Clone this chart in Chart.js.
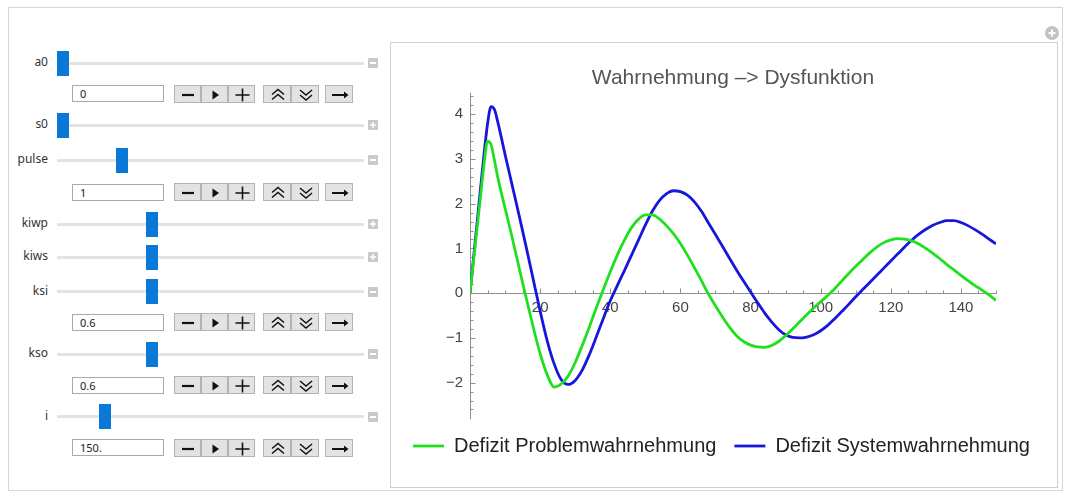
<!DOCTYPE html>
<html><head><meta charset="utf-8">
<script src="https://cdn.jsdelivr.net/npm/chart.js@4.4.1/dist/chart.umd.min.js"></script>
<style>
html,body{margin:0;padding:0;background:#fff;}
body{width:1067px;height:495px;overflow:hidden;position:relative;font-family:"Noto Sans","Open Sans",sans-serif;}
.frame{position:absolute;left:8px;top:7px;width:1055px;height:484px;border:1px solid #d6d6d6;box-sizing:border-box;}
.plotbox{position:absolute;left:390px;top:42px;width:668px;height:446px;border:1px solid #cfcfcf;box-sizing:border-box;background:#fff;}
.lbl{position:absolute;width:44px;text-align:right;font-size:12px;color:#333;line-height:14px;}
.track{position:absolute;left:57px;width:307px;height:3px;background:#e3e3e3;}
.thumb{position:absolute;width:12px;height:25px;background:#0a78d7;}
.ico{position:absolute;left:368px;width:10px;height:10px;background:#c9c9c9;border-radius:1px;}
.ico svg{position:absolute;left:0;top:0;}
.inp{position:absolute;left:72px;width:92px;height:17px;border:1px solid #a9a9a9;box-sizing:border-box;font-size:11px;line-height:15px;padding-left:7px;color:#222;background:#fff;}
.btn{position:absolute;height:18px;background:#e3e3e3;border:1px solid #b3b3b3;box-sizing:border-box;}
.btn svg{position:absolute;left:0;top:0;}
.plus{position:absolute;left:1045px;top:26px;width:14px;height:14px;border-radius:50%;background:#c4c4c4;}
.plus svg{position:absolute;left:0;top:0;}
</style></head>
<body>
<div class="frame"></div>
<div class="plotbox"></div>
<div class="plus"><svg width="14" height="14"><path d="M7 3.5V10.5M3.5 7H10.5" stroke="#fff" stroke-width="2"/></svg></div>
<div id="controls"></div>
<canvas id="c" width="707" height="444" style="position:absolute;left:360px;top:43px;"></canvas>
<script>
// ---- data ----
const timePoints = [0,1,2,3,4,5,6,7,8,10,12,14,16,18,20,22,24,26,28,30,32,34,36,38,40,42,44,46,48,50,52,54,56,58,60,62,64,66,68,70,72,74,76,78,80,82,84,86,88,90,92,94,96,98,100,102,104,106,108,110,112,114,116,118,120,122,124,126,128,130,132,134,136,138,140,142,144,146,148,150];
const problemDeficit = [0,0.72,1.44,2.16,2.88,3.4,3.32,2.96,2.56,1.9,1.25,0.57,-0.1,-0.75,-1.35,-1.82,-2.1,-2.03,-1.85,-1.55,-1.17,-0.76,-0.33,0.08,0.48,0.85,1.18,1.46,1.65,1.75,1.75,1.66,1.51,1.33,1.11,0.85,0.57,0.28,-0.02,-0.28,-0.53,-0.76,-0.95,-1.08,-1.16,-1.2,-1.21,-1.17,-1.08,-0.95,-0.8,-0.64,-0.48,-0.33,-0.19,-0.05,0.1,0.27,0.44,0.6,0.75,0.9,1.03,1.13,1.19,1.22,1.21,1.17,1.1,1.0,0.89,0.77,0.64,0.52,0.4,0.28,0.17,0.07,-0.04,-0.16];
const systemDeficit = [0,0.78,1.56,2.34,3.1,3.78,4.17,4.1,3.8,3.1,2.42,1.74,1.04,0.32,-0.4,-1.06,-1.58,-1.93,-2.04,-1.95,-1.72,-1.38,-0.98,-0.57,-0.17,0.17,0.5,0.84,1.18,1.52,1.83,2.07,2.22,2.29,2.27,2.19,2.04,1.83,1.57,1.31,1.05,0.78,0.52,0.27,0.03,-0.21,-0.44,-0.64,-0.81,-0.93,-0.99,-1.0,-0.98,-0.93,-0.84,-0.72,-0.57,-0.41,-0.25,-0.08,0.08,0.24,0.4,0.56,0.72,0.88,1.04,1.19,1.32,1.43,1.52,1.58,1.62,1.62,1.58,1.51,1.42,1.32,1.21,1.1];
const seriesNames = ['Defizit Problemwahrnehmung','Defizit Systemwahrnehmung'];
const chartTitle = 'Wahrnehmung –> Dysfunktion';
const xTickLabels = [20,40,60,80,100,120,140];
const yTickLabels = [-2,-1,0,1,2,3,4];
const xRange = [0,150];
const yRange = [-2.79,4.47];

// ---- control panel (Manipulate widgets) ----
const controlNames = ['a0','s0','pulse','kiwp','kiws','ksi','kso','i'];
const controlValues = ['0',null,'1',null,null,'0.6','0.6','150.'];
const controlOpen = [true,false,true,false,false,true,true,true];
const rowY = [63,125,160,224,257,291.5,354,416.5];
const inputY = [93.5,null,192,null,null,322,385,447.5];
const thumbX = [57,57,116,146,146,146,146,99];
const wrap = document.getElementById('controls');
function el(cls, css, html){const d=document.createElement('div');d.className=cls;Object.assign(d.style,css);if(html)d.innerHTML=html;wrap.appendChild(d);return d;}
const glyphs = {
  minus:'<svg width="27" height="18"><path d="M7 9H19" stroke="#111" stroke-width="2.2"/></svg>',
  play:'<svg width="27" height="18"><path d="M10.5 4.5L17 9L10.5 13.5Z" fill="#111"/></svg>',
  plus:'<svg width="27" height="18"><path d="M6.5 9H20.5M13.5 2.5V15.5" stroke="#111" stroke-width="1.6"/></svg>',
  up:'<svg width="28" height="18"><path d="M8 8.5L14 3.5L20 8.5M8 13.5L14 8.5L20 13.5" stroke="#111" stroke-width="1.5" fill="none"/></svg>',
  down:'<svg width="28" height="18"><path d="M8 4L14 9L20 4M8 9L14 14L20 9" stroke="#111" stroke-width="1.5" fill="none"/></svg>',
  arrow:'<svg width="28" height="18"><path d="M6 9H21" stroke="#111" stroke-width="2"/><path d="M18 5.5L22.5 9L18 12.5Z" fill="#111"/></svg>'
};
const buttons = [[174,27,'minus'],[201,27,'play'],[228,27,'plus'],[263,28,'up'],[291,28,'down'],[325,28,'arrow']];
controlNames.forEach((n,k)=>{
  const y=rowY[k];
  el('lbl',{left:'4px',top:(y-8)+'px'}).textContent=n;
  el('track',{top:(y-1.5)+'px'});
  el('thumb',{left:thumbX[k]+'px',top:(y-12.5)+'px'});
  el('ico',{top:(y-5)+'px'}, controlOpen[k]
    ? '<svg width="10" height="10"><path d="M2 5H8" stroke="#fff" stroke-width="2"/></svg>'
    : '<svg width="10" height="10"><path d="M2 5H8M5 2V8" stroke="#fff" stroke-width="1.6"/></svg>');
  if(controlValues[k]!==null){
    const iy=inputY[k];
    el('inp',{top:(iy-8.5)+'px'}).textContent=controlValues[k];
    buttons.forEach(b=>el('btn',{left:b[0]+'px',top:(iy-9)+'px',width:b[1]+'px'},glyphs[b[2]]));
  }
});

// ---- chart ----
const tickMarks = {
  id:'tickMarks',
  beforeDatasetsDraw(chart){
    const {ctx, scales:{x,y}} = chart;
    const x0 = Math.round(x.getPixelForValue(0))+0.5, y0 = Math.round(y.getPixelForValue(0))+0.5;
    ctx.save(); ctx.strokeStyle='#8f8f8f'; ctx.lineWidth=1; ctx.beginPath();
    for(let k=-15;k<=25;k++){const v=k/5; if(v<y.min||v>y.max) continue;
      const py=Math.round(y.getPixelForValue(v))+0.5; const len=(k%5===0)?5:3;
      ctx.moveTo(x0,py); ctx.lineTo(x0+len,py);}
    for(let v=5;v<=xRange[1];v+=5){const px=Math.round(x.getPixelForValue(v))+0.5; const len=(v%20===0)?5:3;
      ctx.moveTo(px,y0); ctx.lineTo(px,y0-len);}
    ctx.stroke(); ctx.restore();
  }
};
const minus = v => v<0 ? '\u2212'+(-v) : String(v);
const labelFont = {family:'"Liberation Sans", Arial',size:15};
new Chart(document.getElementById('c'),{
  type:'line',
  data:{datasets:[
    {label:seriesNames[0],data:timePoints.map((t,i)=>({x:t,y:problemDeficit[i]})),borderColor:'#1fe01f',backgroundColor:'#1fe01f',borderWidth:2.8,pointRadius:0,cubicInterpolationMode:'monotone',fill:false},
    {label:seriesNames[1],data:timePoints.map((t,i)=>({x:t,y:systemDeficit[i]})),borderColor:'#1616dc',backgroundColor:'#1616dc',borderWidth:2.8,pointRadius:0,cubicInterpolationMode:'monotone',fill:false}
  ]},
  options:{
    responsive:false, animation:false, devicePixelRatio:1,
    layout:{padding:{left:20,right:4,top:0,bottom:21}},
    scales:{
      x:{type:'linear',min:xRange[0],max:xRange[1],position:{y:0},
        grid:{display:false,drawTicks:false},border:{display:true,color:'#8f8f8f',width:1},
        ticks:{stepSize:20,includeBounds:false,autoSkip:false,maxRotation:0,padding:6,color:'#444',font:labelFont,
          callback:v=>xTickLabels.includes(v)?String(v):''}},
      y:{type:'linear',min:yRange[0],max:yRange[1],position:'left',
        grid:{display:false,drawTicks:false},border:{display:true,color:'#8f8f8f',width:1},
        ticks:{stepSize:1,includeBounds:false,autoSkip:false,padding:7,color:'#444',font:labelFont,
          callback:v=>yTickLabels.includes(v)?minus(v):''},
        afterFit:s=>{s.width=90;}},
      spacer:{type:'linear',position:'right',display:true,
        grid:{display:false,drawTicks:false},border:{display:false},ticks:{display:false},
        afterFit:s=>{s.width=67;}}
    },
    plugins:{
      title:{display:true,text:chartTitle,fullSize:false,color:'#555',font:{family:'"Liberation Sans", Arial',size:21,weight:'normal'},padding:{top:23,bottom:2}},
      legend:{display:true,position:'bottom',fullSize:true,
        labels:{usePointStyle:true,pointStyle:'line',pointStyleWidth:31,padding:18,color:'#222',font:{family:'"Liberation Sans", Arial',size:20}}},
      tooltip:{enabled:false}
    }
  },
  plugins:[tickMarks]
});
</script>
</body></html>
